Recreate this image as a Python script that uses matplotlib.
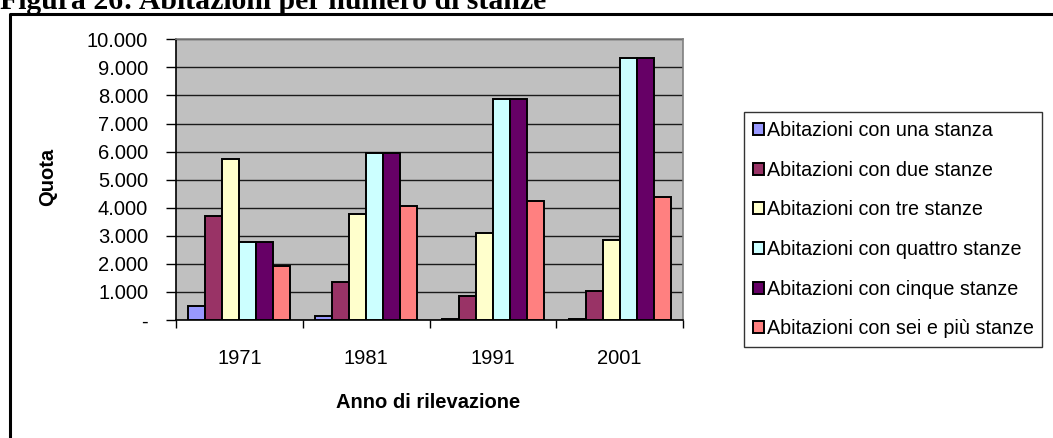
import numpy as np
import matplotlib
matplotlib.use("Agg")
import matplotlib.pyplot as plt
from matplotlib.lines import Line2D
from matplotlib.ticker import FuncFormatter, FixedLocator

plt.rcParams["font.family"] = ["Liberation Sans", "DejaVu Sans"]

# abitazioni per numero di stanze, anni di censimento
years = ["1971", "1981", "1991", "2001"]
series_names = [
    "Abitazioni con una stanza",
    "Abitazioni con due stanze",
    "Abitazioni con tre stanze",
    "Abitazioni con quattro stanze",
    "Abitazioni con cinque stanze",
    "Abitazioni con sei e più stanze",
]
una_stanza = [500, 150, 40, 50]
due_stanze = [3720, 1370, 870, 1030]
tre_stanze = [5740, 3760, 3090, 2850]
quattro_stanze = [2790, 5960, 7890, 9340]
cinque_stanze = [2790, 5960, 7890, 9340]
sei_e_piu = [1940, 4050, 4240, 4380]

values = [una_stanza, due_stanze, tre_stanze, quattro_stanze, cinque_stanze, sei_e_piu]
colors = ["#9999FF", "#993366", "#FFFFCC", "#CCFFFF", "#660066", "#FF8080"]

W, H = 1053, 438
fig = plt.figure(figsize=(W / 100, H / 100), dpi=100)

# plot area in pixel terms
left, right, top, bottom = 176, 683, 39.3, 320
ax = fig.add_axes([left / W, 1 - bottom / H, (right - left) / W, (bottom - top) / H])
ax.set_facecolor("#C0C0C0")

x = np.arange(len(years))
bw = 17 / 126.75
for i, (vals, col) in enumerate(zip(values, colors)):
    ax.bar(x + (i - 2.5) * bw, vals, width=bw, color=col, edgecolor="black",
           linewidth=1.4, label=series_names[i], zorder=3)

ax.set_xlim(-0.5, 3.5)
ax.set_ylim(0, 10000)
ax.set_yticks(np.arange(0, 10001, 1000))
ax.yaxis.set_major_formatter(FuncFormatter(
    lambda v, p: "-" if v == 0 else f"{int(v):,}".replace(",", ".")))
ax.grid(axis="y", color="#1a1a1a", linewidth=1.0, zorder=1)

ax.set_xticks(x)
ax.set_xticklabels(years)
ax.xaxis.set_minor_locator(FixedLocator([-0.5, 0.5, 1.5, 2.5, 3.5]))
ax.tick_params(axis="x", which="major", length=0, pad=21, labelsize=14.5)
ax.tick_params(axis="x", which="minor", length=6, width=1, direction="out")
ax.tick_params(axis="y", length=7, width=1, direction="out", pad=13, labelsize=14.5)

for s in ["top", "right"]:
    ax.spines[s].set_color("#808080")
    ax.spines[s].set_linewidth(1.2)
for s in ["left", "bottom"]:
    ax.spines[s].set_color("black")
    ax.spines[s].set_linewidth(1.2)

ax.set_ylabel("Quota", fontsize=14.5, fontweight="bold", va="center")
ax.yaxis.set_label_coords((48 - left) / (right - left), (bottom - 177) / (bottom - top))
ax.set_xlabel("Anno di rilevazione", fontsize=14.5, fontweight="bold", va="center")
ax.xaxis.set_label_coords((428 - left) / (right - left), (bottom - 403) / (bottom - top))

leg = fig.legend(loc="upper left", bbox_to_anchor=(744 / W, 1 - 112 / H),
                 fontsize=14.2, frameon=True, fancybox=False, borderpad=0.45,
                 labelspacing=1.05, handlelength=0.55, handleheight=0.55,
                 handletextpad=0.15, borderaxespad=0)
leg.get_frame().set_edgecolor("black")
leg.get_frame().set_linewidth(1.0)

# cornice della figura, tagliata a destra e in basso
fig.add_artist(Line2D([9.5 / W, 9.5 / W, 1.0], [0, 1 - 13.5 / H, 1 - 13.5 / H],
                      transform=fig.transFigure, color="black", linewidth=2.2))

fig.text(0, 1 - 9 / H, "Figura 26: Abitazioni per numero di stanze",
         family=["Liberation Serif", "DejaVu Serif"], fontweight="bold",
         fontsize=21.4, ha="left", va="baseline")

fig.savefig("out.png", dpi=100)
